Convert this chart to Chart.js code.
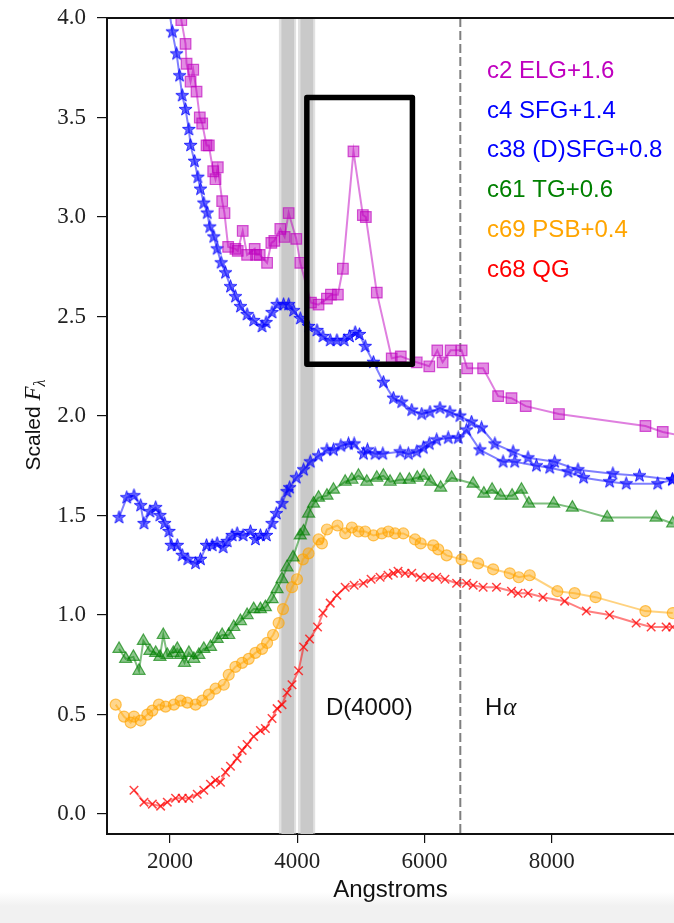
<!DOCTYPE html>
<html>
<head>
<meta charset="utf-8">
<script src="https://cdn.jsdelivr.net/npm/chart.js@4.4.1/dist/chart.umd.min.js"></script>
<style>
  html, body { margin: 0; padding: 0; }
  body {
    width: 674px; height: 923px; overflow: hidden;
    background: linear-gradient(to bottom, #fff 0, #fff 892px, #f1f1f1 906px, #f1f1f1 100%);
  }
  canvas { display: block; }
</style>
</head>
<body>
<canvas id="chart" width="674" height="923"></canvas>
<script>
// c2 ELG, offset +1.6
var elgWave = [2120, 2176, 2243, 2259, 2322, 2364, 2416, 2467, 2505, 2573, 2609, 2678, 2714, 2750, 2819, 2855, 2913, 3027, 3064, 3142, 3211, 3330, 3352, 3409, 3525, 3592, 3639, 3733, 3801, 3864, 3984, 4047, 4215, 4334, 4466, 4529, 4638, 4717, 4883, 5031, 5078, 5250, 5485, 5627, 5878, 6075, 6201, 6285, 6411, 6584, 6671, 6922, 7158, 7368, 7592, 8114, 9474, 9746, 10050]
var elgFlux = [4.25, 3.99, 3.87, 3.77, 3.68, 3.74, 3.63, 3.50, 3.47, 3.36, 3.36, 3.23, 3.19, 3.25, 3.08, 3.02, 2.85, 2.84, 2.83, 2.93, 2.81, 2.84, 2.81, 2.81, 2.77, 2.87, 2.88, 2.94, 2.90, 3.02, 2.89, 2.77, 2.57, 2.56, 2.59, 2.61, 2.61, 2.74, 3.33, 3.01, 3.00, 2.62, 2.29, 2.30, 2.27, 2.25, 2.33, 2.27, 2.33, 2.33, 2.24, 2.24, 2.10, 2.09, 2.05, 2.01, 1.95, 1.92, 1.90]

// c4 SFG, offset +1.4
var sfgWave = [1960, 2035, 2102, 2149, 2191, 2243, 2295, 2322, 2384, 2436, 2478, 2530, 2584, 2624, 2687, 2740, 2803, 2871, 2949, 3027, 3106, 3211, 3314, 3446, 3509, 3603, 3682, 3785, 3864, 3942, 4047, 4177, 4309, 4403, 4518, 4623, 4737, 4820, 4910, 4977, 5067, 5197, 5354, 5511, 5642, 5799, 5956, 6086, 6243, 6400, 6557, 6740, 6897, 7106, 7393, 7628, 8047, 8413, 8961, 9380, 9898]
var sfgFlux = [4.10, 3.93, 3.82, 3.71, 3.61, 3.54, 3.44, 3.36, 3.28, 3.20, 3.14, 3.07, 3.02, 2.95, 2.90, 2.84, 2.77, 2.72, 2.65, 2.60, 2.55, 2.51, 2.48, 2.45, 2.47, 2.52, 2.56, 2.56, 2.56, 2.53, 2.49, 2.45, 2.43, 2.40, 2.38, 2.38, 2.38, 2.40, 2.42, 2.41, 2.35, 2.27, 2.17, 2.09, 2.07, 2.03, 2.01, 2.02, 2.04, 2.02, 2.00, 1.97, 1.94, 1.86, 1.82, 1.79, 1.77, 1.73, 1.71, 1.70, 1.68]

// c38 (D)SFG, offset +0.8
var dsfgWave = [1197, 1318, 1432, 1537, 1589, 1683, 1773, 1840, 1914, 1981, 2019, 2113, 2191, 2279, 2400, 2478, 2573, 2662, 2740, 2834, 2897, 2976, 3054, 3148, 3263, 3341, 3420, 3514, 3603, 3671, 3760, 3838, 3879, 3984, 4099, 4204, 4334, 4466, 4569, 4685, 4805, 4894, 5040, 5103, 5223, 5344, 5616, 5746, 5878, 5981, 6075, 6191, 6373, 6530, 6662, 6871, 7236, 7419, 7760, 7969, 8256, 8502, 8910, 9172, 9667, 9898]
var dsfgFlux = [1.49, 1.59, 1.60, 1.55, 1.46, 1.52, 1.54, 1.50, 1.46, 1.42, 1.35, 1.35, 1.30, 1.28, 1.26, 1.28, 1.35, 1.35, 1.36, 1.34, 1.37, 1.40, 1.41, 1.40, 1.42, 1.38, 1.40, 1.40, 1.46, 1.51, 1.56, 1.62, 1.64, 1.69, 1.73, 1.77, 1.80, 1.83, 1.83, 1.85, 1.86, 1.86, 1.81, 1.83, 1.81, 1.81, 1.82, 1.81, 1.82, 1.84, 1.86, 1.88, 1.89, 1.89, 1.93, 1.83, 1.77, 1.77, 1.75, 1.74, 1.72, 1.69, 1.67, 1.66, 1.66, 1.68]

// c61 TG, offset +0.6
var tgWave = [1197, 1302, 1423, 1511, 1580, 1683, 1773, 1840, 1893, 1956, 2050, 2113, 2165, 2227, 2295, 2373, 2452, 2530, 2635, 2740, 2819, 2922, 3001, 3106, 3211, 3314, 3420, 3498, 3603, 3682, 3760, 3838, 3933, 4047, 4099, 4177, 4256, 4334, 4466, 4569, 4753, 4858, 4962, 5093, 5250, 5354, 5459, 5616, 5762, 5887, 5992, 6097, 6254, 6427, 6765, 6933, 7063, 7195, 7377, 7525, 7639, 8031, 8325, 8873, 9642, 9903]
var tgFlux = [0.83, 0.78, 0.79, 0.72, 0.87, 0.82, 0.81, 0.79, 0.90, 0.80, 0.81, 0.83, 0.80, 0.76, 0.81, 0.78, 0.80, 0.83, 0.84, 0.88, 0.90, 0.90, 0.94, 0.97, 1.00, 1.03, 1.03, 1.04, 1.08, 1.13, 1.18, 1.24, 1.29, 1.40, 1.42, 1.51, 1.56, 1.59, 1.60, 1.63, 1.67, 1.68, 1.70, 1.67, 1.69, 1.70, 1.67, 1.68, 1.68, 1.69, 1.70, 1.67, 1.64, 1.69, 1.66, 1.61, 1.63, 1.60, 1.60, 1.63, 1.56, 1.56, 1.54, 1.49, 1.49, 1.46]

// c69 PSB, offset +0.4
var psbWave = [1145, 1275, 1380, 1432, 1537, 1642, 1721, 1824, 1929, 2060, 2165, 2270, 2400, 2505, 2609, 2714, 2844, 2922, 3027, 3133, 3236, 3341, 3446, 3525, 3619, 3707, 3776, 3917, 3995, 4089, 4177, 4334, 4387, 4466, 4632, 4753, 4858, 4962, 5067, 5197, 5329, 5432, 5537, 5667, 5851, 5940, 6138, 6216, 6348, 6583, 6844, 7079, 7341, 7482, 7655, 8089, 8361, 8690, 9474, 9903]
var psbFlux = [0.55, 0.49, 0.46, 0.49, 0.47, 0.50, 0.52, 0.55, 0.54, 0.55, 0.57, 0.56, 0.55, 0.57, 0.60, 0.63, 0.65, 0.70, 0.74, 0.76, 0.78, 0.81, 0.83, 0.86, 0.90, 0.96, 1.03, 1.14, 1.18, 1.28, 1.31, 1.38, 1.36, 1.43, 1.45, 1.41, 1.44, 1.42, 1.42, 1.40, 1.41, 1.42, 1.41, 1.41, 1.38, 1.36, 1.35, 1.33, 1.30, 1.28, 1.26, 1.23, 1.21, 1.19, 1.20, 1.12, 1.11, 1.09, 1.02, 1.01]

// c68 QG, no offset
var qgWave = [1432, 1589, 1721, 1851, 1956, 2086, 2191, 2295, 2427, 2530, 2635, 2714, 2792, 2871, 2949, 3054, 3133, 3211, 3314, 3420, 3498, 3603, 3682, 3760, 3838, 3917, 4020, 4099, 4193, 4318, 4403, 4518, 4623, 4753, 4894, 5040, 5161, 5302, 5427, 5511, 5584, 5694, 5799, 5929, 6059, 6191, 6322, 6505, 6662, 6765, 6922, 7132, 7368, 7471, 7628, 7863, 8204, 8544, 8910, 9328, 9564, 9799, 9903]
var qgFlux = [0.12, 0.06, 0.05, 0.04, 0.06, 0.08, 0.08, 0.08, 0.10, 0.12, 0.15, 0.17, 0.16, 0.21, 0.24, 0.28, 0.32, 0.35, 0.39, 0.42, 0.43, 0.48, 0.53, 0.55, 0.61, 0.65, 0.72, 0.84, 0.88, 0.94, 1.01, 1.06, 1.10, 1.14, 1.15, 1.16, 1.18, 1.19, 1.20, 1.21, 1.22, 1.21, 1.21, 1.19, 1.19, 1.19, 1.18, 1.16, 1.16, 1.15, 1.14, 1.14, 1.12, 1.11, 1.11, 1.09, 1.07, 1.02, 1.00, 0.96, 0.94, 0.94, 0.94]

var xTicks = [2000, 4000, 6000, 8000]
var yTicks = [0, 0.5, 1, 1.5, 2, 2.5, 3, 3.5, 4]

// D(4000) continuum windows, H-alpha, and the highlighted region
var d4000Blue = [3750, 3950]
var d4000Red = [4050, 4250]
var hAlpha = 6563
var boxWave = [4150, 5810]
var boxFlux = [2.26, 3.6]

var SANS = '"Liberation Sans", Arial, sans-serif'
var SERIF = '"Liberation Serif", "Times New Roman", serif'

function rgba(c, a) {
  return 'rgba(' + c[0] + ',' + c[1] + ',' + c[2] + ',' + a + ')'
}

// matplotlib-style filled five-point star
function starMarker(c) {
  var cv = document.createElement('canvas')
  cv.width = cv.height = 15
  var ctx = cv.getContext('2d')
  ctx.beginPath()
  for (var i = 0; i < 10; i++) {
    var r = i % 2 ? 2.7 : 6.8
    var a = -Math.PI / 2 + i * Math.PI / 5
    ctx.lineTo(7.5 + r * Math.cos(a), 7.5 + r * Math.sin(a))
  }
  ctx.closePath()
  ctx.fillStyle = rgba(c, 0.6)
  ctx.fill()
  ctx.strokeStyle = rgba(c, 0.8)
  ctx.lineWidth = 1
  ctx.stroke()
  return cv
}

var series = [
  { label: 'c2 ELG+1.6', wave: elgWave, flux: elgFlux, color: [191, 0, 191], marker: 'rect', radius: 7.5 }
, { label: 'c4 SFG+1.4', wave: sfgWave, flux: sfgFlux, color: [0, 0, 255], marker: 'star', radius: 6 }
, { label: 'c38 (D)SFG+0.8', wave: dsfgWave, flux: dsfgFlux, color: [0, 0, 255], marker: 'star', radius: 6 }
, { label: 'c61 TG+0.6', wave: tgWave, flux: tgFlux, color: [0, 128, 0], marker: 'triangle', radius: 7 }
, { label: 'c69 PSB+0.4', wave: psbWave, flux: psbFlux, color: [255, 165, 0], marker: 'circle', radius: 5.5 }
, { label: 'c68 QG', wave: qgWave, flux: qgFlux, color: [255, 0, 0], marker: 'crossRot', radius: 6 }
]

var datasets = series.map(function (s) {
  return {
    label: s.label
  , data: s.wave.map(function (w, i) { return { x: w, y: s.flux[i] } })
  , borderColor: rgba(s.color, 0.5)
  , borderWidth: 2
  , pointStyle: s.marker === 'star' ? starMarker(s.color) : s.marker
  , pointRadius: s.radius
  , pointBackgroundColor: rgba(s.color, 0.45)
  , pointBorderColor: rgba(s.color, s.marker === 'crossRot' ? 0.75 : 0.65)
  , pointBorderWidth: s.marker === 'crossRot' ? 1.5 : 1.2
  , fill: false
  , tension: 0
  , textColor: rgba(s.color, 1)
  }
})

function fitAxis(size) {
  return function (scale) {
    if (scale.isHorizontal()) scale.height = size
    else scale.width = size
    scale.paddingTop = scale.paddingBottom = scale.paddingLeft = scale.paddingRight = 0
  }
}

var overlay = {
  id: 'overlay'
, beforeDatasetsDraw: function (chart) {
    var ctx = chart.ctx, a = chart.chartArea, x = chart.scales.x
    ctx.save()
    ;[d4000Blue, d4000Red].forEach(function (b) {
      var l = x.getPixelForValue(b[0]), r = x.getPixelForValue(b[1])
      ctx.fillStyle = '#c9c9c9'
      ctx.fillRect(l, a.top, r - l, a.bottom - a.top)
      ctx.strokeStyle = 'rgba(201,201,201,0.55)'
      ctx.lineWidth = 3
      ctx.beginPath()
      ctx.moveTo(l - 1, a.top); ctx.lineTo(l - 1, a.bottom)
      ctx.moveTo(r + 0.5, a.top); ctx.lineTo(r + 0.5, a.bottom)
      ctx.stroke()
    })
    var hx = x.getPixelForValue(hAlpha)
    ctx.strokeStyle = '#7f7f7f'
    ctx.lineWidth = 2
    ctx.setLineDash([9, 4])
    ctx.beginPath()
    ctx.moveTo(hx, a.top)
    ctx.lineTo(hx, a.bottom)
    ctx.stroke()
    ctx.restore()
  }
, afterDatasetsDraw: function (chart) {
    var ctx = chart.ctx, a = chart.chartArea, x = chart.scales.x, y = chart.scales.y
    ctx.save()

    // highlighted region
    ctx.strokeStyle = '#000'
    ctx.lineWidth = 5.5
    ctx.lineJoin = 'round'
    var bl = x.getPixelForValue(boxWave[0]), br = x.getPixelForValue(boxWave[1])
    var bt = y.getPixelForValue(boxFlux[1]), bb = y.getPixelForValue(boxFlux[0])
    ctx.strokeRect(bl, bt, br - bl, bb - bt)

    // top spine
    ctx.lineWidth = 2
    ctx.strokeStyle = '#111'
    ctx.beginPath()
    ctx.moveTo(a.left - 1, a.top)
    ctx.lineTo(chart.width, a.top)
    ctx.stroke()

    // text labels
    ctx.textBaseline = 'alphabetic'
    ctx.textAlign = 'left'
    ctx.fillStyle = '#111'
    ctx.font = '24px ' + SANS
    var ty = y.getPixelForValue(0.5)
    ctx.fillText('D(4000)', x.getPixelForValue(4450), ty)
    var hxl = x.getPixelForValue(6950)
    ctx.fillText('H', hxl, ty)
    var hw = ctx.measureText('H').width
    ctx.font = 'italic 25px ' + SERIF
    ctx.fillText('\u03b1', hxl + hw + 1, ty)

    // legend, text only
    ctx.font = '24px ' + SANS
    chart.data.datasets.forEach(function (d, i) {
      ctx.fillStyle = d.textColor
      ctx.fillText(d.label, a.left + 380, a.top + 60 + i * 39.7)
    })

    // y axis title: Scaled F_lambda
    ctx.translate(40, 425)
    ctx.rotate(-Math.PI / 2)
    ctx.fillStyle = '#111'
    ctx.font = '21px ' + SANS
    var w1 = ctx.measureText('Scaled ').width
    ctx.font = 'italic 23px ' + SERIF
    var w2 = ctx.measureText('F').width
    ctx.font = 'italic 16px ' + SERIF
    var w3 = ctx.measureText('\u03bb').width
    var x0 = -(w1 + w2 + w3) / 2
    ctx.font = '21px ' + SANS
    ctx.fillText('Scaled ', x0, 0)
    ctx.font = 'italic 23px ' + SERIF
    ctx.fillText('F', x0 + w1, 0)
    ctx.font = 'italic 16px ' + SERIF
    ctx.fillText('\u03bb', x0 + w1 + w2, 5)

    ctx.restore()
  }
}

var chart = new Chart(document.getElementById('chart'), {
  type: 'line'
, data: { datasets: datasets }
, options: {
    responsive: false
  , animation: false
  , events: []
  , layout: { autoPadding: false, padding: { top: 18, left: 0, right: 0, bottom: 0 } }
  , plugins: { legend: { display: false }, tooltip: { enabled: false } }
  , scales: {
      x: {
        type: 'linear'
      , min: 1008
      , max: 9923
      , afterFit: fitAxis(89)
      , afterBuildTicks: function (scale) { scale.ticks = xTicks.map(function (v) { return { value: v } }) }
      , grid: { drawOnChartArea: false, drawTicks: true, tickLength: 9, color: '#111', lineWidth: 1.2 }
      , border: { display: true, color: '#111', width: 2 }
      , ticks: {
          padding: 5
        , color: '#222'
        , font: { family: SERIF, size: 23 }
        , maxRotation: 0
        , callback: function (v) { return String(v) }
        }
      , title: {
          display: true
        , text: 'Angstroms'
        , color: '#111'
        , font: { family: SANS, size: 24 }
        , padding: { top: 0, bottom: 18 }
        }
      }
    , y: {
        type: 'linear'
      , min: -0.1
      , max: 4.0
      , afterFit: fitAxis(107)
      , afterBuildTicks: function (scale) { scale.ticks = yTicks.map(function (v) { return { value: v } }) }
      , grid: { drawOnChartArea: false, drawTicks: true, tickLength: 10, color: '#111', lineWidth: 1.2 }
      , border: { display: true, color: '#111', width: 2 }
      , ticks: {
          padding: 11
        , color: '#222'
        , font: { family: SERIF, size: 23 }
        , callback: function (v) { return v.toFixed(1) }
        }
      }
    }
  }
  , plugins: [overlay]
})
</script>
</body>
</html>
